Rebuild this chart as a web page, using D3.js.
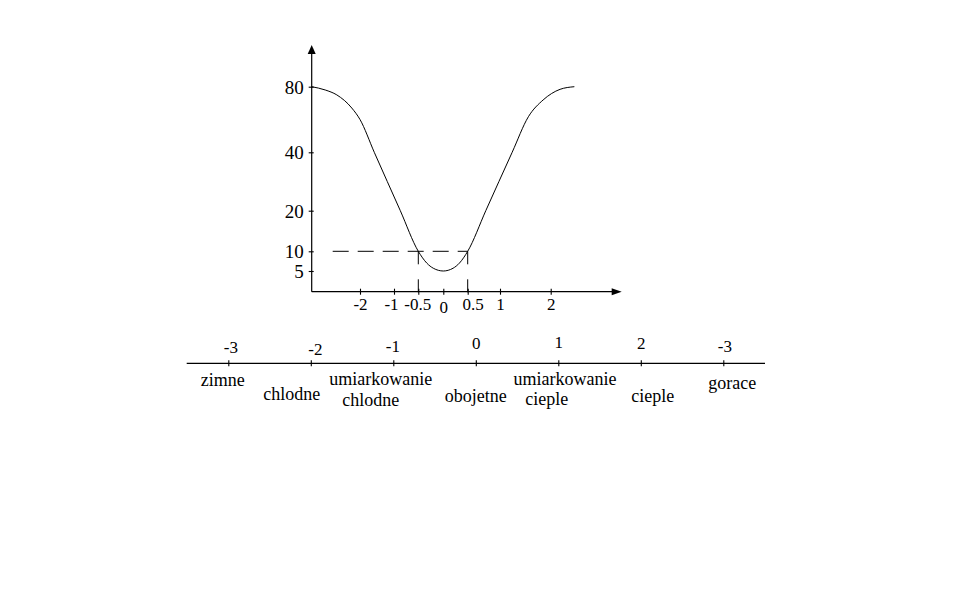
<!DOCTYPE html>
<html>
<head>
<meta charset="utf-8">
<script src="https://cdn.jsdelivr.net/npm/d3@7"></script>
<style>
  html, body { margin: 0; padding: 0; background: #fff; }
  svg { display: block; }
  text { font-family: "Liberation Serif", "Times New Roman", serif; fill: #000; }
</style>
</head>
<body>
<svg id="chart" width="980" height="599"></svg>
<script>
// ---- data ----
const curveX = [-3, -2.72, -2.48, -2.17, -2, -1.58, -0.87, -0.5, -0.33, -0.2, 0, 0.2, 0.33, 0.5, 0.78, 1.24, 1.56, 1.85, 2.19, 2.48];
const curveY = [80, 78, 75, 67, 60, 40, 20, 10, 7, 5.7, 5, 5.7, 7, 10, 20, 40, 61.7, 71.9, 78.4, 80];
const yTicks = [5, 10, 20, 40, 80];
const xTicks = [-2, -1, -0.5, 0, 0.5, 1, 2];
const xTickLabels = ["-2", "-1", "-0.5", "0", "0.5", "1", "2"];
const comfortLevel = 10;
const comfortRange = [-0.5, 0.5];
const scaleValues = ["-3", "-2", "-1", "0", "1", "2", "-3"];
const scaleCategories = [["zimne"], ["chlodne"], ["umiarkowanie", "chlodne"], ["obojetne"], ["umiarkowanie", "cieple"], ["cieple"], ["gorace"]];

// ---- layout ----
const svg = d3.select("#chart");
const x = d3.scaleLinear()
  .domain([-3, -2, -1, -0.5, 0, 0.5, 1, 2, 3])
  .range([311.7, 360, 394, 418.3, 443.3, 467.7, 500, 550.7, 600]);
const y = d3.scaleLinear()
  .domain([0, 5, 10, 20, 40, 80])
  .range([291.7, 271, 251.3, 210.7, 152.3, 86.7]);
const x0 = x(-3), y0 = y(0);
const yTop = 45, xRight = 621.7;

// axes lines with arrows
svg.append("line").attr("x1", x0).attr("y1", y0).attr("x2", x0).attr("y2", yTop + 6)
  .attr("stroke", "#000").attr("stroke-width", 1.2);
svg.append("path").attr("d", `M${x0},${yTop} L${x0 - 4},${yTop + 9} L${x0 + 4},${yTop + 9} Z`).attr("fill", "#000");
svg.append("line").attr("x1", x0).attr("y1", y0).attr("x2", xRight - 6).attr("y2", y0)
  .attr("stroke", "#000").attr("stroke-width", 1.2);
svg.append("path").attr("d", `M${xRight},${y0} L${xRight - 10},${y0 - 3.5} L${xRight - 10},${y0 + 3.5} Z`).attr("fill", "#000");

// y axis ticks
const yAxis = svg.append("g").attr("transform", `translate(${x0},0)`)
  .call(d3.axisLeft(y).tickValues(yTicks).tickSize(3).tickPadding(5).tickFormat(d3.format("d")));
yAxis.select(".domain").remove();
yAxis.selectAll(".tick line").attr("x1", 2).attr("stroke-width", 1.1);
yAxis.selectAll(".tick text").style("font-size", "19px").attr("font-family", null)
  .attr("dy", "0.34em");

// x axis ticks
const xAxis = svg.append("g").attr("transform", `translate(0,${y0})`)
  .call(d3.axisBottom(x).tickValues(xTicks).tickSize(3).tickPadding(7)
    .tickFormat((d, i) => xTickLabels[i]));
xAxis.select(".domain").remove();
xAxis.selectAll(".tick line").attr("y1", -3).attr("stroke-width", 1.1);
const xLabelDx = [0, -3, -1, 0, 5, 0, 0];
const xLabelDy = [0, 0, 0, 3, 0, 0, 0];
xAxis.selectAll(".tick text").style("font-size", "17px").attr("font-family", null)
  .attr("dx", (d, i) => xLabelDx[i]).attr("dy", (d, i) => (0.71 * 17 + xLabelDy[i] - 4) + "px");

// dashed comfort lines
svg.append("line").attr("x1", x0 + 21).attr("x2", x(comfortRange[1]))
  .attr("y1", y(comfortLevel)).attr("y2", y(comfortLevel))
  .attr("stroke", "#000").attr("stroke-width", 1).attr("stroke-dasharray", "16,9");
comfortRange.forEach(v => {
  svg.append("line").attr("x1", x(v)).attr("x2", x(v))
    .attr("y1", y(comfortLevel)).attr("y2", y0 + 3)
    .attr("stroke", "#000").attr("stroke-width", 1).attr("stroke-dasharray", "13,15");
});

// curve
const pts = curveX.map((v, i) => [v, curveY[i]]);
svg.append("path").datum(pts)
  .attr("d", d3.line().x(d => x(d[0])).y(d => y(d[1])).curve(d3.curveMonotoneX))
  .attr("fill", "none").attr("stroke", "#000").attr("stroke-width", 1);

// lower scale
const s = d3.scaleLinear().domain([0, scaleValues.length - 1]).range([228.3, 723.3]);
const sy = 363.3;
svg.append("line").attr("x1", 186.7).attr("x2", 765).attr("y1", sy).attr("y2", sy)
  .attr("stroke", "#000").attr("stroke-width", 1.2);
const sAxis = svg.append("g").attr("transform", `translate(0,${sy})`)
  .call(d3.axisTop(s).tickValues(d3.range(scaleValues.length))
    .tickSize(3).tickFormat((d, i) => scaleValues[i]));
sAxis.select(".domain").remove();
sAxis.selectAll(".tick line").attr("y1", 3).attr("stroke-width", 1.1);
const valDx = [2, 4, -1, 0, 0, 0, 1];
const valBase = [353, 355, 352, 349, 348, 349, 351.5];
sAxis.selectAll(".tick text").style("font-size", "17px").attr("font-family", null)
  .attr("dy", null).attr("y", (d, i) => valBase[i] - sy).attr("dx", (d, i) => valDx[i]);

// categories
const catDx = [[-5.5], [-19], [-12.5, -22.5], [0], [6.7, -11.6], [12], [9]];
const catBase = [[386], [400], [385, 406], [402], [385, 405], [402], [389]];
scaleCategories.forEach((lines, i) => {
  lines.forEach((t, j) => {
    svg.append("text").attr("x", s(i) + catDx[i][j]).attr("y", catBase[i][j])
      .attr("text-anchor", "middle").style("font-size", "18px").text(t);
  });
});
</script>
</body>
</html>
